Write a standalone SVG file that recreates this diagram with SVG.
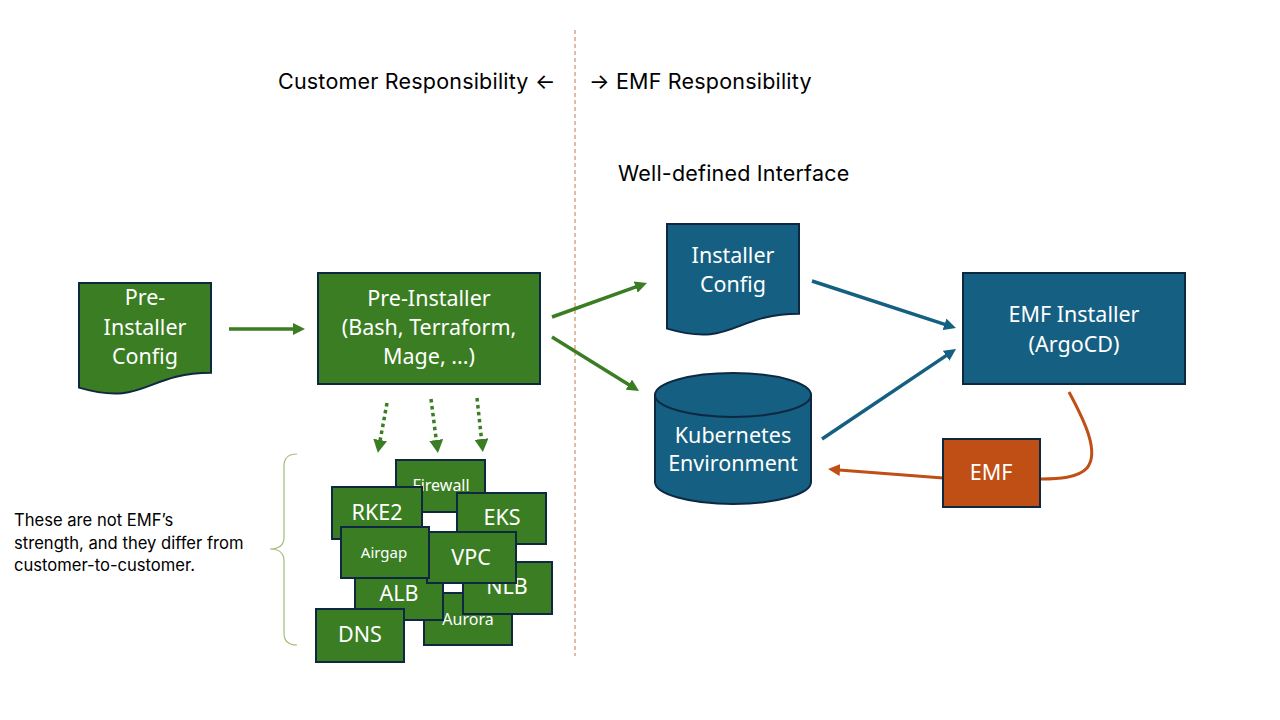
<svg xmlns="http://www.w3.org/2000/svg" width="1280" height="720" viewBox="0 0 1280 720">
<style>
.g{fill:#3A7D22;stroke:#0E2841;stroke-width:2}
.b{fill:#156082;stroke:#0E2841;stroke-width:2}
.o{fill:#C04F15;stroke:#0E2841;stroke-width:2}
.t{font-family:"Noto Sans","Open Sans",sans-serif;fill:#fff;text-anchor:middle;font-size:21.5px}
.s{font-size:16px}
.h{font-family:Inter,"Noto Sans",sans-serif;fill:#000;font-size:21.5px;letter-spacing:0.2px}
.a{font-family:Inter,"Noto Sans",sans-serif;fill:#000;font-size:16.6px}
.cg{stroke:#3A7D22;stroke-width:3.5;fill:none}
.cb{stroke:#156082;stroke-width:3.5;fill:none}
.co{stroke:#C04F15;stroke-width:3;fill:none}
.dot{stroke:#3A7D22;stroke-width:3.5;fill:none;stroke-dasharray:3.5 3.5}
</style>
<defs>
<marker id="mg" markerUnits="userSpaceOnUse" viewBox="0 -6 12 12" markerWidth="12" markerHeight="12" refX="1" refY="0" orient="auto"><path d="M0,-6 L12,0 L0,6 Z" fill="#3A7D22"/></marker>
<marker id="mb" markerUnits="userSpaceOnUse" viewBox="0 -6 12 12" markerWidth="12" markerHeight="12" refX="1" refY="0" orient="auto"><path d="M0,-6 L12,0 L0,6 Z" fill="#156082"/></marker>
<marker id="mo" markerUnits="userSpaceOnUse" viewBox="0 -6 12 12" markerWidth="12" markerHeight="12" refX="1" refY="0" orient="auto"><path d="M0,-6 L12,0 L0,6 Z" fill="#C04F15"/></marker>
<marker id="md" markerUnits="userSpaceOnUse" viewBox="0 -7 13 14" markerWidth="13" markerHeight="14" refX="1" refY="0" orient="auto"><path d="M0,-7 L13,0 L0,7 Z" fill="#3A7D22"/></marker>
</defs>
<rect width="1280" height="720" fill="#fff"/>
<line x1="575" y1="30" x2="575" y2="656" stroke="#BF7A50" stroke-width="1" stroke-dasharray="4 3"/>
<g id="headers">
<text class="h" x="278" y="89">Customer Responsibility ←</text>
<text class="h" x="589" y="89">→ EMF Responsibility</text>
<text class="h" x="618" y="181">Well-defined Interface</text>
</g>
<g id="annotation">
<text class="a" x="14" y="526">These are not EMF’s</text>
<text class="a" x="14" y="549">strength, and they differ from</text>
<text class="a" x="14" y="571">customer-to-customer.</text>
<path d="M297,454 Q284,454 284,466 L284,537 Q284,549 270,549 Q284,549 284,561 L284,633 Q284,645 297,645" fill="none" stroke="#A3BF78" stroke-width="1.2"/>
</g>
<g id="connectors">
<line class="cg" x1="229" y1="329" x2="294" y2="329" marker-end="url(#mg)"/>
<line class="cg" x1="552" y1="317" x2="636.6" y2="286.7" marker-end="url(#mg)"/>
<line class="cg" x1="552" y1="337" x2="629.7" y2="385.2" marker-end="url(#mg)"/>
<line class="dot" x1="387" y1="403" x2="380" y2="441" marker-end="url(#md)"/>
<line class="dot" x1="431" y1="399" x2="436.4" y2="441" marker-end="url(#md)"/>
<line class="dot" x1="477" y1="398" x2="481.6" y2="440" marker-end="url(#md)"/>
<line class="cb" x1="812" y1="281" x2="945.5" y2="324.6" marker-end="url(#mb)"/>
<line class="cb" x1="822" y1="439" x2="946.9" y2="355.1" marker-end="url(#mb)"/>
<line class="co" x1="943" y1="478" x2="839" y2="469.9" marker-end="url(#mo)"/>
<path class="co" d="M1069,392 C1084,420 1100,452 1087,468 C1078,478 1058,479 1041,479"/>
</g>
<g id="pre-installer-config">
<path class="g" d="M79,283 H211 V372.8 C145,372.8 145,407 79,387.6 Z"/>
<text class="t" x="145" y="305">Pre-</text>
<text class="t" x="145" y="335">Installer</text>
<text class="t" x="145" y="364">Config</text>
</g>
<g id="pre-installer">
<rect class="g" x="318" y="273" width="222" height="111"/>
<text class="t" x="429" y="306">Pre-Installer</text>
<text class="t" x="429" y="335">(Bash, Terraform,</text>
<text class="t" x="429" y="364">Mage, ...)</text>
</g>
<g id="installer-config">
<path class="b" d="M667,224 H799 V313.8 C733,313.8 733,348 667,328.6 Z"/>
<text class="t" x="733" y="263">Installer</text>
<text class="t" x="733" y="292">Config</text>
</g>
<g id="kubernetes-environment">
<path class="b" d="M655,395 A78,22 0 0,1 811,395 L811,482 A78,22 0 0,1 655,482 Z"/>
<path d="M655,395 A78,22 0 0,0 811,395" fill="none" stroke="#0E2841" stroke-width="2"/>
<text class="t" x="733" y="443">Kubernetes</text>
<text class="t" x="733" y="471">Environment</text>
</g>
<g id="emf-installer">
<rect class="b" x="963" y="273" width="222" height="111"/>
<text class="t" x="1074" y="322">EMF Installer</text>
<text class="t" x="1074" y="352">(ArgoCD)</text>
</g>
<g id="emf">
<rect class="o" x="943" y="439" width="97" height="68"/>
<text class="t" x="991" y="480">EMF</text>
</g>
<g id="firewall">
<rect class="g" x="396" y="460" width="89" height="52"/>
<text class="t s" x="441" y="491">Firewall</text>
</g>
<g id="rke2">
<rect class="g" x="332" y="487" width="90" height="52"/>
<text class="t" x="377" y="520">RKE2</text>
</g>
<g id="eks">
<rect class="g" x="457" y="493" width="89" height="51"/>
<text class="t" x="502" y="525">EKS</text>
</g>
<g id="aurora">
<rect class="g" x="424" y="593" width="88" height="52"/>
<text class="t s" x="468" y="625">Aurora</text>
</g>
<g id="nlb">
<rect class="g" x="463" y="562" width="89" height="52"/>
<text class="t" x="507" y="594">NLB</text>
</g>
<g id="alb">
<rect class="g" x="355" y="568" width="88" height="52"/>
<text class="t" x="399" y="601">ALB</text>
</g>
<g id="vpc">
<rect class="g" x="427" y="532" width="89" height="51"/>
<text class="t" x="471" y="565">VPC</text>
</g>
<g id="airgap">
<rect class="g" x="341" y="527" width="88" height="51"/>
<text class="t" x="384" y="558" style="font-size:15px">Airgap</text>
</g>
<g id="dns">
<rect class="g" x="316" y="609" width="88" height="53"/>
<text class="t" x="360" y="642">DNS</text>
</g>
</svg>
